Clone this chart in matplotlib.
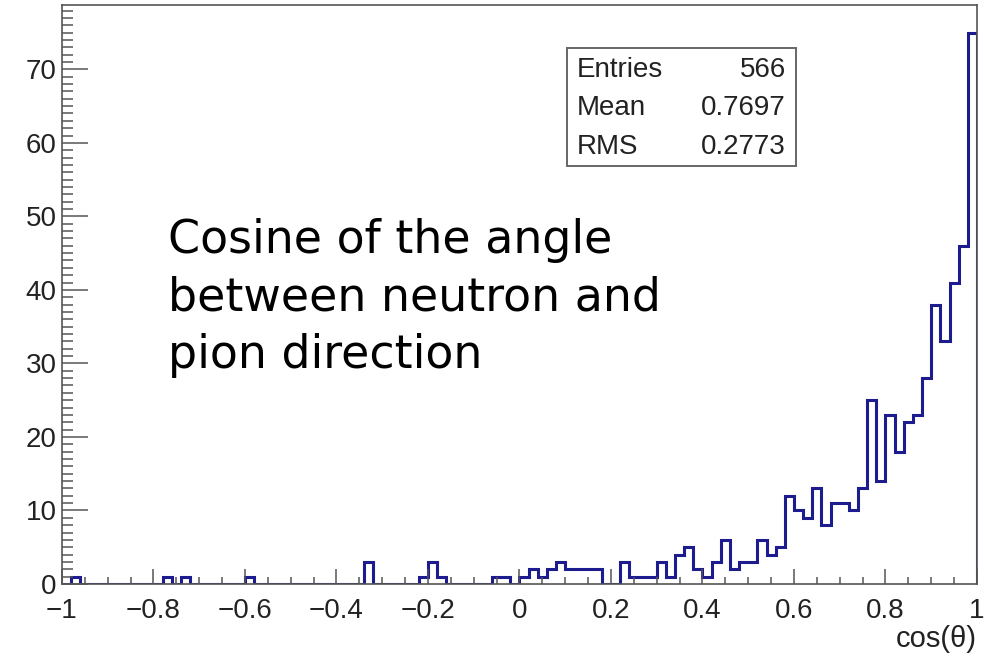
import numpy as np
import matplotlib
matplotlib.use("Agg")
import matplotlib.pyplot as plt
from matplotlib.ticker import FixedLocator, FixedFormatter, MultipleLocator

# ---- data (100 bins between -1 and 1) ----
bin_edges = np.linspace(-1.0, 1.0, 101)
counts = [
    0, 1, 0, 0, 0, 0, 0, 0, 0, 0,
    0, 1, 0, 1, 0, 0, 0, 0, 0, 0,
    1, 0, 0, 0, 0, 0, 0, 0, 0, 0,
    0, 0, 0, 3, 0, 0, 0, 0, 0, 1,
    3, 1, 0, 0, 0, 0, 0, 1, 1, 0,
    1, 2, 1, 2, 3, 2, 2, 2, 2, 0,
    0, 3, 1, 1, 1, 3, 1, 4, 5, 2,
    1, 3, 6, 2, 3, 3, 6, 4, 5, 12,
    10, 9, 13, 8, 11, 11, 10, 13, 25, 14,
    23, 18, 22, 23, 28, 38, 33, 41, 46, 75,
]
x_ticks = [-1, -0.8, -0.6, -0.4, -0.2, 0, 0.2, 0.4, 0.6, 0.8, 1]
x_tick_labels = ["\u22121", "\u22120.8", "\u22120.6", "\u22120.4", "\u22120.2",
                 "0", "0.2", "0.4", "0.6", "0.8", "1"]
y_ticks = [0, 10, 20, 30, 40, 50, 60, 70]
y_tick_labels = ["0", "10", "20", "30", "40", "50", "60", "70"]
stats_names = ["Entries", "Mean", "RMS"]
stats_values = ["566", "0.7697", "0.2773"]
x_title = "cos(\u03b8)"
annotation = "Cosine of the angle\nbetween neutron and\npion direction"

W, H = 995, 661
fig = plt.figure(figsize=(W / 100, H / 100), dpi=100)
L, R, T, B = 62, 977, 5, 584
ax = fig.add_axes([L / W, 1 - B / H, (R - L) / W, (B - T) / H])

line_col = "#1c1c8e"
ax.stairs(counts, bin_edges, baseline=0, color=line_col, linewidth=2.2)

ax.set_xlim(-1, 1)
ax.set_ylim(0, max(counts) * 1.05)

frame_col = "#555555"
for s in ax.spines.values():
    s.set_color(frame_col)
    s.set_linewidth(1.2)

lab_font = ["Liberation Sans", "DejaVu Sans"]
ax.xaxis.set_major_locator(FixedLocator(x_ticks))
ax.xaxis.set_major_formatter(FixedFormatter(x_tick_labels))
ax.xaxis.set_minor_locator(MultipleLocator(0.05))
ax.yaxis.set_major_locator(FixedLocator(y_ticks))
ax.yaxis.set_major_formatter(FixedFormatter(y_tick_labels))
ax.yaxis.set_minor_locator(MultipleLocator(1))

ax.tick_params(axis="x", which="major", direction="in", length=11, width=1.1,
               color=frame_col, pad=10, labelsize=20, top=False)
ax.tick_params(axis="x", which="minor", direction="in", length=5, width=1.1,
               color=frame_col, top=False)
ax.tick_params(axis="y", which="major", direction="in", length=19, width=1.1,
               color=frame_col, pad=4, labelsize=20, right=False)
ax.tick_params(axis="y", which="minor", direction="in", length=8, width=1.1,
               color=frame_col, right=False)
for lbl in ax.get_xticklabels() + ax.get_yticklabels():
    lbl.set_family(lab_font)
    lbl.set_color("#222222")

ax.set_xlabel(x_title, loc="right", fontsize=21, family=lab_font,
              color="#222222", labelpad=1)

# stats box
bx0, by0, bx1, by1 = 567, 48, 796, 166
fig.patches.append(plt.Rectangle((bx0 / W, 1 - by1 / H), (bx1 - bx0) / W,
                                 (by1 - by0) / H, transform=fig.transFigure,
                                 facecolor="white", edgecolor="#666666",
                                 linewidth=1.4, zorder=5))
row_y = [70, 108, 147]
for name, val, yy in zip(stats_names, stats_values, row_y):
    fig.text(577 / W, 1 - yy / H, name, ha="left", va="center", fontsize=20,
             family=lab_font, color="#222222", zorder=6)
    fig.text(786 / W, 1 - yy / H, val, ha="right", va="center", fontsize=20,
             family=lab_font, color="#222222", zorder=6)

# annotation
fig.text(168 / W, 1 - 298 / H, annotation, ha="left", va="center",
         fontsize=33, family=["DejaVu Sans"], color="black",
         linespacing=1.36)

fig.savefig("out.png", dpi=100)
